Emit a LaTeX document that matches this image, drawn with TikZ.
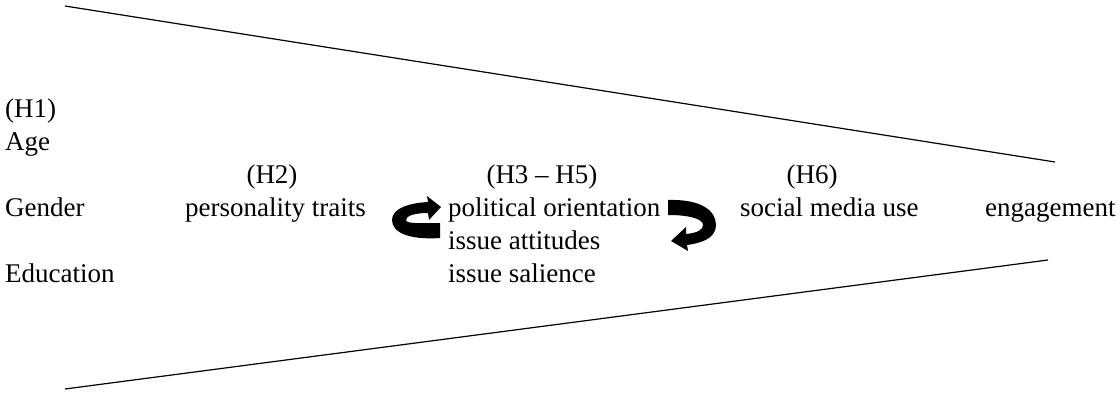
\documentclass[tikz,border=0pt]{standalone}
\usepackage{fontspec}
\setmainfont{Liberation Serif}
\begin{document}
\begin{tikzpicture}[x=1pt,y=-1pt,
  lbl/.style={inner sep=0pt, anchor=base west, font=\fontsize{27}{33}\selectfont},
  hyp/.style={inner sep=0pt, anchor=base, font=\fontsize{27}{33}\selectfont},
  cyc/.style={fill=black, draw=none},
  frame/.style={line width=1.2pt}]
\useasboundingbox (0,0) rectangle (1120,394);
% funnel lines
\coordinate (tl) at (65,6);
\coordinate (tr) at (1055,162);
\coordinate (bl) at (65,389);
\coordinate (br) at (1048,260);
\draw[frame] (tl) -- (tr);
\draw[frame] (bl) -- (br);
% left column
\node[lbl] (h1) at (5,117) {(H1)};
\node[lbl] (age) at (5,150) {Age};
\node[lbl] (gender) at (5,216) {Gender};
\node[lbl] (edu) at (5,282) {Education};
% personality
\node[hyp] (h2) at (272,183) {(H2)};
\node[lbl] (pers) at (185,216) {personality traits};
% political
\node[hyp] (h35) at (542,183) {(H3 -- H5)};
\node[lbl] (pol) at (448,216) {political orientation};
\node[lbl] (att) at (448,249) {issue attitudes};
\node[lbl] (sal) at (448,282) {issue salience};
% social media
\node[hyp] (h6) at (812,183) {(H6)};
\node[lbl] (smu) at (740,216) {social media use};
\node[lbl] (eng) at (985,216) {engagement};
% cycle arrow left (personality <-> political)
\path[cyc] (440,238) .. controls (410,240) and (392,233) .. (392,220)
  .. controls (392,208) and (410,203) .. (428,202)
  -- (427,196) -- (441,207) -- (429,220) -- (428,213)
  .. controls (414,213) and (406,216) .. (406,220)
  .. controls (406,224) and (420,223) .. (440,223) -- cycle;
% cycle arrow right (political <-> social media)
\path[cyc] (668,200) .. controls (700,199) and (716,210) .. (716,225)
  .. controls (716,238) and (702,243) .. (687,245)
  -- (688,251) -- (671,241) -- (686,227) -- (686,234)
  .. controls (697,233) and (703,230) .. (703,225)
  .. controls (703,219) and (690,215) .. (668,215) -- cycle;
\end{tikzpicture}
\end{document}
